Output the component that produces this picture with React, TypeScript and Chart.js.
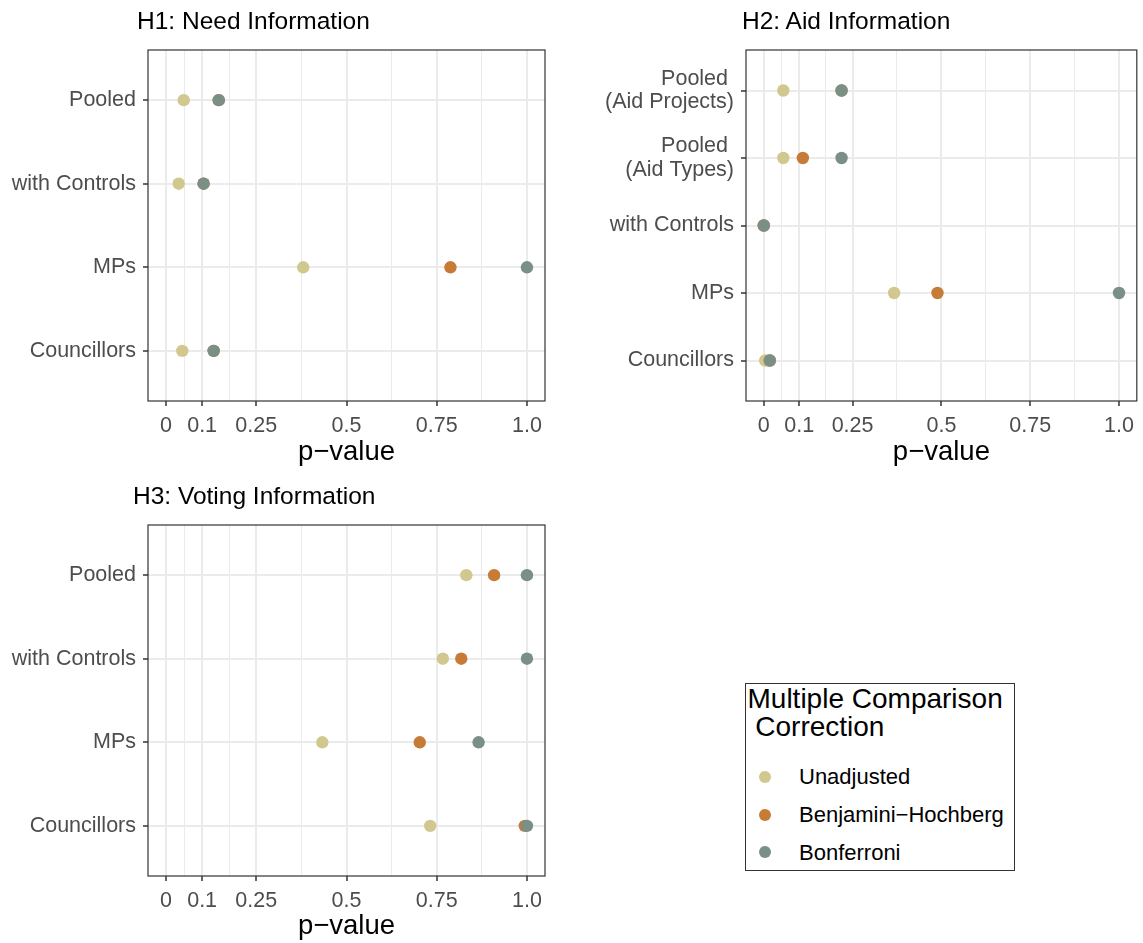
import React, { useEffect, useRef } from "react";
import { Chart, registerables } from "chart.js";

Chart.register(...registerables);

// ---------- data ----------
const methods = ["Unadjusted", "Benjamini−Hochberg", "Bonferroni"];
const methodColors = ["#D0C88F", "#C67B37", "#7A8F86"];

const h1Categories: (string | string[])[] = ["Pooled", "with Controls", "MPs", "Councillors"];
const h1Unadjusted = [0.049, 0.035, 0.38, 0.045];
const h1BH = [0.146, 0.104, 0.788, 0.132];
const h1Bonferroni = [0.146, 0.104, 1.0, 0.132];

const h2Categories: (string | string[])[] = [
  ["Pooled ", "(Aid Projects)"],
  ["Pooled ", "(Aid Types)"],
  "with Controls",
  "MPs",
  "Councillors",
];
const h2Unadjusted = [0.055, 0.055, 0.0, 0.367, 0.004];
const h2BH = [0.219, 0.11, 0.0, 0.489, 0.017];
const h2Bonferroni = [0.219, 0.219, 0.0, 1.0, 0.017];

const h3Categories: (string | string[])[] = ["Pooled", "with Controls", "MPs", "Councillors"];
const h3Unadjusted = [0.832, 0.767, 0.433, 0.732];
const h3BH = [0.909, 0.818, 0.703, 0.994];
const h3Bonferroni = [1.0, 1.0, 0.866, 1.0];

const xMajorTicks = [0, 0.1, 0.25, 0.5, 0.75, 1.0];
const xMajorLabels = ["0", "0.1", "0.25", "0.5", "0.75", "1.0"];
const xMinorTicks = [0.05, 0.175, 0.375, 0.625, 0.875];

const FONT = "'Liberation Sans', Arial, Helvetica, sans-serif";
const TICK_SIZE = 21.5;

const isMajor = (v: number) => xMajorTicks.some((m) => Math.abs(m - v) < 1e-9);

const borderPlugin = {
  id: "panelBorder",
  afterDatasetsDraw(chart: any) {
    const { ctx, chartArea } = chart;
    const { left, top, right, bottom } = chartArea;
    ctx.save();
    ctx.strokeStyle = "#333333";
    ctx.lineWidth = 1.2;
    ctx.strokeRect(left, top, right - left, bottom - top);
    ctx.restore();
  },
};

type PanelProps = {
  categories: (string | string[])[];
  unadjusted: number[];
  bh: number[];
  bonferroni: number[];
  left: number;
  top: number;
  width: number;
  height: number;
  padTop: number;
  padRight: number;
  yAxisWidth: number;
  xAxisHeight: number;
};

function Panel(p: PanelProps) {
  const ref = useRef<HTMLCanvasElement | null>(null);
  useEffect(() => {
    if (!ref.current) return;
    const n = p.categories.length;
    const series = [p.unadjusted, p.bh, p.bonferroni];
    // draw Bonferroni on top: Chart.js draws dataset 0 last
    const order = [2, 1, 0];
    const datasets = order.map((mi) => ({
      label: methods[mi],
      data: series[mi].map((v, j) => ({ x: v, y: j + 1 })),
      backgroundColor: methodColors[mi],
      borderColor: methodColors[mi],
      borderWidth: 0,
      pointRadius: 6.2,
      pointHoverRadius: 6.2,
    }));
    const allX = [...xMajorTicks, ...xMinorTicks].sort((a, b) => a - b);
    const chart = new Chart(ref.current, {
      type: "scatter",
      data: { datasets },
      options: {
        responsive: false,
        maintainAspectRatio: false,
        animation: false,
        layout: { padding: { left: 0, right: p.padRight, top: p.padTop, bottom: 0 } },
        plugins: {
          legend: { display: false },
          tooltip: { enabled: false },
          title: { display: false },
        },
        scales: {
          x: {
            type: "linear",
            min: -0.05,
            max: 1.05,
            afterBuildTicks: (s: any) => {
              s.ticks = allX.map((v) => ({ value: v }));
            },
            afterFit: (s: any) => {
              s.height = p.xAxisHeight;
            },
            ticks: {
              autoSkip: false,
              maxRotation: 0,
              padding: 7,
              color: "#4D4D4D",
              font: { family: FONT, size: TICK_SIZE },
              callback: (v: any) => {
                const i = xMajorTicks.findIndex((m) => Math.abs(m - Number(v)) < 1e-9);
                return i >= 0 ? xMajorLabels[i] : "";
              },
            },
            grid: {
              color: "#EBEBEB",
              lineWidth: (c: any) => (c.tick && isMajor(c.tick.value) ? 2 : 1),
              tickColor: (c: any) => (c.tick && isMajor(c.tick.value) ? "#333333" : "rgba(0,0,0,0)"),
              tickLength: 5,
              tickWidth: 1.5,
            },
            border: { display: false },
            title: {
              display: true,
              text: "p−value",
              color: "#000000",
              font: { family: FONT, size: 27.5 },
              padding: { top: 0, bottom: 0 },
            },
          },
          y: {
            type: "linear",
            min: 0.4,
            max: n + 0.6,
            reverse: true,
            afterBuildTicks: (s: any) => {
              s.ticks = p.categories.map((_, i) => ({ value: i + 1 }));
            },
            afterFit: (s: any) => {
              s.width = p.yAxisWidth;
            },
            ticks: {
              autoSkip: false,
              padding: 7,
              color: "#4D4D4D",
              font: { family: FONT, size: TICK_SIZE, lineHeight: 1.1 },
              callback: (v: any) => p.categories[Math.round(Number(v)) - 1] as any,
            },
            grid: {
              color: "#EBEBEB",
              lineWidth: 2,
              tickColor: "#333333",
              tickLength: 5,
              tickWidth: 1.5,
            },
            border: { display: false },
          },
        },
      },
      plugins: [borderPlugin],
    });
    return () => chart.destroy();
  }, []);
  return (
    <canvas
      ref={ref}
      width={p.width}
      height={p.height}
      style={{ position: "absolute", left: p.left, top: p.top, width: p.width, height: p.height }}
    />
  );
}

function Txt(props: { x: number; baseline: number; size: number; color?: string; children: React.ReactNode }) {
  return (
    <div
      style={{
        position: "absolute",
        left: props.x,
        top: props.baseline - 0.8465 * props.size,
        fontSize: props.size,
        lineHeight: 1,
        fontFamily: FONT,
        color: props.color || "#000000",
        whiteSpace: "pre",
      }}
    >
      {props.children}
    </div>
  );
}

export default function App() {
  return (
    <div
      style={{
        position: "absolute",
        left: 0,
        top: 0,
        width: 1143,
        height: 943,
        background: "#FFFFFF",
        overflow: "hidden",
      }}
    >
      <Panel
        categories={h1Categories}
        unadjusted={h1Unadjusted}
        bh={h1BH}
        bonferroni={h1Bonferroni}
        left={0}
        top={0}
        width={560}
        height={469}
        padTop={50}
        padRight={15}
        yAxisWidth={148}
        xAxisHeight={68}
      />
      <Panel
        categories={h2Categories}
        unadjusted={h2Unadjusted}
        bh={h2BH}
        bonferroni={h2Bonferroni}
        left={580}
        top={0}
        width={563}
        height={469}
        padTop={50}
        padRight={4}
        yAxisWidth={166}
        xAxisHeight={68}
      />
      <Panel
        categories={h3Categories}
        unadjusted={h3Unadjusted}
        bh={h3BH}
        bonferroni={h3Bonferroni}
        left={0}
        top={475}
        width={560}
        height={468}
        padTop={50}
        padRight={15}
        yAxisWidth={148}
        xAxisHeight={67}
      />
      <Txt x={137} baseline={30} size={24.5}>H1: Need Information</Txt>
      <Txt x={742} baseline={30} size={24.5}>H2: Aid Information</Txt>
      <Txt x={133} baseline={504.5} size={24.5}>H3: Voting Information</Txt>

      <div
        style={{
          position: "absolute",
          left: 745,
          top: 683,
          width: 270,
          height: 188,
          border: "1px solid #333333",
          boxSizing: "border-box",
        }}
      />
      <Txt x={747.5} baseline={708.3} size={28}>Multiple Comparison</Txt>
      <Txt x={747.5} baseline={737} size={28}>{" Correction"}</Txt>
      {methods.map((m, i) => (
        <React.Fragment key={m}>
          <div
            style={{
              position: "absolute",
              left: 765 - 6,
              top: 776.7 + i * 37.8 - 6,
              width: 12,
              height: 12,
              borderRadius: 6,
              background: methodColors[i],
            }}
          />
          <Txt x={799} baseline={776.7 + i * 37.8 + 7.9} size={22}>{m}</Txt>
        </React.Fragment>
      ))}
    </div>
  );
}
